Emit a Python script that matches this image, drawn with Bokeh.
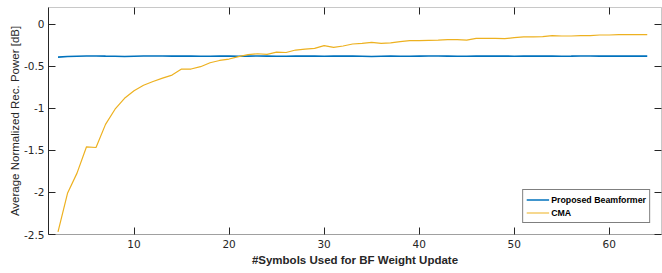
from bokeh.plotting import figure
from bokeh.models import LinearAxis, FixedTicker, Legend, LegendItem, Range1d
from bokeh.embed import file_html
from bokeh.resources import INLINE

symbols = [2, 3, 4, 5, 6, 7, 8, 9, 10, 11, 12, 13, 14, 15, 16, 17, 18, 19, 20, 21,
           22, 23, 24, 25, 26, 27, 28, 29, 30, 31, 32, 33, 34, 35, 36, 37, 38, 39, 40, 41,
           42, 43, 44, 45, 46, 47, 48, 49, 50, 51, 52, 53, 54, 55, 56, 57, 58, 59, 60, 61,
           62, 63, 64]

proposed = [-0.390, -0.383, -0.380, -0.377, -0.376, -0.378, -0.379, -0.383, -0.380, -0.377,
            -0.376, -0.377, -0.378, -0.377, -0.378, -0.380, -0.379, -0.378, -0.378, -0.379,
            -0.378, -0.377, -0.378, -0.380, -0.379, -0.378, -0.377, -0.378, -0.379, -0.378,
            -0.377, -0.378, -0.380, -0.382, -0.380, -0.378, -0.379, -0.380, -0.378, -0.377,
            -0.376, -0.378, -0.380, -0.379, -0.378, -0.377, -0.378, -0.378, -0.379, -0.378,
            -0.378, -0.377, -0.378, -0.379, -0.378, -0.376, -0.377, -0.378, -0.378, -0.377,
            -0.378, -0.377, -0.378]

cma = [-2.47, -2.01, -1.77, -1.457, -1.465, -1.19, -1.01, -0.88, -0.79, -0.725,
       -0.68, -0.64, -0.604, -0.532, -0.532, -0.504, -0.457, -0.43, -0.413, -0.385,
       -0.36, -0.35, -0.357, -0.33, -0.335, -0.306, -0.294, -0.286, -0.254, -0.274,
       -0.258, -0.234, -0.226, -0.214, -0.226, -0.22, -0.206, -0.195, -0.195, -0.19,
       -0.187, -0.183, -0.183, -0.187, -0.167, -0.167, -0.167, -0.17, -0.159, -0.15,
       -0.15, -0.147, -0.135, -0.139, -0.139, -0.135, -0.135, -0.127, -0.127, -0.123,
       -0.123, -0.123, -0.123]

x_ticks = [10, 20, 30, 40, 50, 60]
y_ticks = [-2.5, -2, -1.5, -1, -0.5, 0]
y_tick_labels = ["-2.5", "-2", "-1.5", "-1", "-0.5", "0"]

series_names = ["Proposed Beamformer", "CMA"]
series_colors = ["#0072BD", "#EDB120"]

AX = "#262626"
TICK_FONT = "DejaVu Sans"
LABEL_FONT = "Liberation Sans"

p = figure(width=662, height=273, output_backend="svg", toolbar_location=None,
           x_range=Range1d(1, 65.5), y_range=Range1d(-2.5, 0.2),
           min_border_left=48, min_border_right=1, min_border_top=7, min_border_bottom=39)
p.background_fill_color = "white"
p.border_fill_color = "white"
p.outline_line_color = "#c8c8c8"
p.xgrid.visible = False
p.ygrid.visible = False

r1 = p.line(symbols, proposed, line_color=series_colors[0], line_width=1.6)
r2 = p.line(symbols, cma, line_color=series_colors[1], line_width=1.2)

xa = p.xaxis[0]
xa.ticker = FixedTicker(ticks=x_ticks)
xa.axis_line_color = "#a0a0a0"
xa.major_tick_line_color = AX
xa.major_tick_in = 7
xa.major_tick_out = 0
xa.minor_tick_line_color = None
xa.major_label_text_font = TICK_FONT
xa.major_label_text_font_size = "10.5px"
xa.major_label_text_color = AX
xa.major_label_standoff = 5
xa.axis_label = "#Symbols Used for BF Weight Update"
xa.axis_label_text_font = LABEL_FONT
xa.axis_label_text_font_size = "11.5px"
xa.axis_label_text_font_style = "bold"
xa.axis_label_text_color = AX
xa.axis_label_standoff = 3

ya = p.yaxis[0]
ya.ticker = FixedTicker(ticks=y_ticks)
ya.major_label_overrides = {t: s for t, s in zip(y_ticks, y_tick_labels)}
ya.axis_line_color = AX
ya.major_tick_line_color = AX
ya.major_tick_in = 7
ya.major_tick_out = 0
ya.minor_tick_line_color = None
ya.major_label_text_font = TICK_FONT
ya.major_label_text_font_size = "10.5px"
ya.major_label_text_color = AX
ya.major_label_standoff = 4
ya.axis_label = "Average Normalized Rec. Power [dB]"
ya.axis_label_text_font = LABEL_FONT
ya.axis_label_text_font_size = "11.5px"
ya.axis_label_text_font_style = "normal"
ya.axis_label_text_color = AX
ya.axis_label_standoff = 0

# box edges with inward ticks (no labels)
top = LinearAxis(ticker=FixedTicker(ticks=x_ticks), axis_line_color="#c8c8c8",
                 major_tick_line_color=AX, major_tick_in=7, major_tick_out=0,
                 minor_tick_line_color=None, major_label_text_font_size="1px",
                 major_label_overrides={t: "" for t in x_ticks},
                 major_label_standoff=0)
p.add_layout(top, "above")
right = LinearAxis(ticker=FixedTicker(ticks=y_ticks), axis_line_color="#c8c8c8",
                   major_tick_line_color=AX, major_tick_in=7, major_tick_out=0,
                   minor_tick_line_color=None, major_label_text_font_size="1px",
                   major_label_overrides={t: "" for t in y_ticks},
                   major_label_standoff=0)
p.add_layout(right, "right")

legend = Legend(items=[LegendItem(label=series_names[0], renderers=[r1]),
                       LegendItem(label=series_names[1], renderers=[r2])],
                location="bottom_right")
legend.border_line_color = "black"
legend.border_line_width = 1.5
legend.background_fill_color = "white"
legend.padding = 3
legend.spacing = 0
legend.margin = 11
legend.label_height = 13
legend.glyph_height = 13
legend.glyph_width = 23
legend.label_standoff = 2
legend.label_text_font = LABEL_FONT
legend.label_text_font_size = "8.8px"
legend.label_text_font_style = "bold"
legend.label_text_color = "black"
p.add_layout(legend, "center")

open("out.html", "w").write(file_html(p, INLINE))
